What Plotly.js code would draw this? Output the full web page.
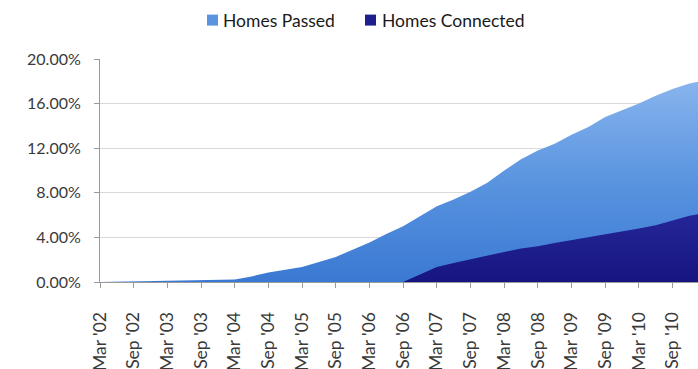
<!DOCTYPE html>
<html>
<head>
<meta charset="utf-8">
<script src="https://cdn.plot.ly/plotly-3.0.1.min.js"></script>
<style>html,body{margin:0;padding:0;background:#fff;}#chart{width:698px;height:369px;}</style>
</head>
<body>
<div id="chart"></div>
<script>
var quarters = ["Mar '02","Jun '02","Sep '02","Dec '02","Mar '03","Jun '03","Sep '03","Dec '03",
  "Mar '04","Jun '04","Sep '04","Dec '04","Mar '05","Jun '05","Sep '05","Dec '05",
  "Mar '06","Jun '06","Sep '06","Dec '06","Mar '07","Jun '07","Sep '07","Dec '07",
  "Mar '08","Jun '08","Sep '08","Dec '08","Mar '09","Jun '09","Sep '09","Dec '09",
  "Mar '10","Jun '10","Sep '10","Dec '10","Mar '11"];
var homesPassed = [0,0.02,0.05,0.07,0.1,0.12,0.15,0.18,
  0.22,0.5,0.85,1.1,1.35,1.8,2.25,2.9,
  3.55,4.3,5.0,5.9,6.8,7.4,8.1,8.9,
  10.0,11.0,11.8,12.4,13.2,13.9,14.8,15.4,
  16.0,16.7,17.3,17.8,18.1];
var homesConnected = [null,null,null,null,null,null,null,null,
  null,null,null,null,null,null,null,null,
  null,null,0,0.7,1.35,1.7,2.05,2.4,
  2.7,3.0,3.2,3.5,3.75,4.0,4.3,4.55,
  4.8,5.1,5.5,5.95,6.2];
var tickLabels = ["Mar '02","Sep '02","Mar '03","Sep '03","Mar '04","Sep '04","Mar '05","Sep '05",
  "Mar '06","Sep '06","Mar '07","Sep '07","Mar '08","Sep '08","Mar '09","Sep '09","Mar '10","Sep '10"];
var yTicks = [0,4,8,12,16,20];
var seriesNames = ["Homes Passed","Homes Connected"];

var W = 698, H = 369;
var M = {l:100, r:0, t:58.5, b:87};
var pw = W - M.l - M.r, ph = H - M.t - M.b;
function px(x){ return (x - M.l)/pw; }
function py(y){ return (H - M.b - y)/ph; }

var FONT = "Lato, 'Noto Sans', sans-serif";

var traces = [
  {x: quarters, y: homesPassed, type:'scatter', mode:'lines', fill:'tozeroy',
   line:{width:0, color:'#5a93de'}, showlegend:false, hoverinfo:'skip',
   fillgradient:{type:'vertical', start:0, stop:18.5,
     colorscale:[[0,'#3a79d3'],[0.5,'#5b95e0'],[1,'#8ab6ee']]}},
  {x: quarters, y: homesConnected, type:'scatter', mode:'lines', fill:'tozeroy',
   line:{width:0, color:'#1e1e8c'}, showlegend:false, hoverinfo:'skip',
   fillgradient:{type:'vertical', start:0, stop:6.5,
     colorscale:[[0,'#161580'],[1,'#26269a']]}}
];

var layout = {
  width: W, height: H,
  margin: M,
  paper_bgcolor:'#ffffff', plot_bgcolor:'#ffffff',
  showlegend:false,
  font:{family:FONT, size:16, color:'#3a3a3a'},
  xaxis:{type:'category', range:[0, pw/16.84], tickmode:'array', tickvals:tickLabels, ticktext:tickLabels,
    tickangle:-90, showline:true, linecolor:'#9a9a9a', linewidth:1, ticks:'outside', ticklen:5,
    tickcolor:'#9a9a9a', showgrid:false, zeroline:false, ticklabelstandoff:17,
    tickfont:{family:FONT, size:17.5, color:'#3a3a3a'}},
  yaxis:{range:[0,20], tickmode:'array', tickvals:yTicks,
    ticktext: yTicks.map(function(v){return v.toFixed(2)+'%';}),
    showline:true, linecolor:'#9a9a9a', linewidth:1, ticks:'outside', ticklen:5, tickcolor:'#9a9a9a',
    showgrid:true, gridcolor:'#d9d9d9', gridwidth:1, zeroline:false, ticklabelstandoff:10,
    tickfont:{family:FONT, size:16, color:'#3a3a3a'}},
  shapes:[
    {type:'rect', xref:'paper', yref:'paper', x0:px(207), x1:px(218), y0:py(25), y1:py(14),
     fillcolor:'#5a93de', line:{width:0}},
    {type:'rect', xref:'paper', yref:'paper', x0:px(365), x1:px(376), y0:py(25), y1:py(14),
     fillcolor:'#1e1e8c', line:{width:0}}
  ],
  annotations:[
    {text:seriesNames[0], xref:'paper', yref:'paper', x:px(221), y:py(20), xanchor:'left', yanchor:'middle',
     showarrow:false, font:{family:FONT, size:17.5, color:'#1a1a1a'}},
    {text:seriesNames[1], xref:'paper', yref:'paper', x:px(380), y:py(20), xanchor:'left', yanchor:'middle',
     showarrow:false, font:{family:FONT, size:17.5, color:'#1a1a1a'}}
  ]
};

Plotly.newPlot('chart', traces, layout, {staticPlot:true, displayModeBar:false});
</script>
</body>
</html>
